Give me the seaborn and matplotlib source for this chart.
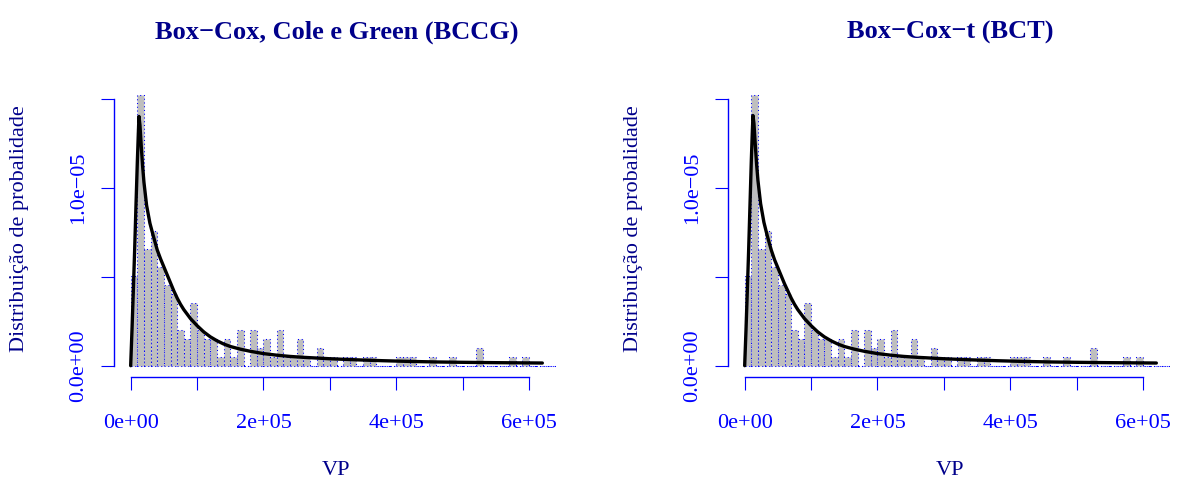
import matplotlib
matplotlib.use("Agg")
import matplotlib.pyplot as plt
import seaborn as sns
import pandas as pd

# Histogram of VP: bins of width 10 000 starting at 0; heights are densities (x 1e-6)
bin_width = 10000
hist_density_e6 = [
    5.06, 15.18, 6.58, 7.59, 5.57, 4.55, 4.05, 2.02, 1.52, 3.54,
    2.02, 1.52, 1.52, 0.51, 1.52, 0.51, 2.02, 0.00, 2.02, 1.01,
    1.52, 0.51, 2.02, 0.51, 0.51, 1.52, 0.51, 0.00, 1.01, 0.51,
    0.51, 0.00, 0.51, 0.51, 0.00, 0.51, 0.51, 0.00, 0.00, 0.00,
    0.51, 0.51, 0.51, 0.00, 0.00, 0.51, 0.00, 0.00, 0.51, 0.00,
    0.00, 0.00, 1.01, 0.00, 0.00, 0.00, 0.00, 0.51, 0.00, 0.51,
    0.00, 0.00, 0.00, 0.00,
]

# Fitted densities (x in thousands, density x 1e-6)
curve_x_k = [0, 2, 4, 6, 8, 10, 11.5, 12.5, 14, 16, 18, 20, 24, 29, 34, 40,
             45, 50, 55, 60, 65, 70, 75, 80, 85, 90, 95, 100, 110, 120, 130,
             140, 150, 165, 180, 200, 220, 240, 260, 280, 300, 340, 380, 420,
             460, 500, 550, 620]
bccg_y_e6 = [0, 2.0, 4.2, 6.5, 9.0, 11.4, 13.0, 14.0, 13.5, 12.3, 11.2, 10.3,
             9.0, 8.0, 7.3, 6.5, 6.0, 5.55, 5.1, 4.65, 4.2, 3.8, 3.45, 3.15,
             2.9, 2.65, 2.45, 2.25, 1.9, 1.62, 1.4, 1.22, 1.08, 0.93, 0.81,
             0.68, 0.59, 0.52, 0.47, 0.43, 0.39, 0.33, 0.28, 0.24, 0.21, 0.19,
             0.17, 0.15]
bct_y_e6 = [0, 2.0, 4.2, 6.5, 9.0, 11.5, 13.1, 14.05, 13.6, 12.4, 11.3, 10.4,
            9.1, 8.05, 7.3, 6.5, 5.95, 5.5, 5.05, 4.6, 4.2, 3.8, 3.45, 3.15,
            2.9, 2.65, 2.45, 2.25, 1.9, 1.62, 1.4, 1.22, 1.08, 0.93, 0.81,
            0.68, 0.59, 0.52, 0.47, 0.43, 0.39, 0.33, 0.28, 0.24, 0.21, 0.19,
            0.17, 0.15]

titles = ["Box\u2212Cox, Cole e Green (BCCG)", "Box\u2212Cox\u2212t (BCT)"]
x_label = "VP"
y_label = "Distribui\u00e7\u00e3o de probalidade"
x_ticks = [0, 100000, 200000, 300000, 400000, 500000, 600000]
x_tick_labels = ["0e+00", "", "2e+05", "", "4e+05", "", "6e+05"]
y_ticks = [0, 5e-6, 1e-5, 1.5e-5]
y_tick_labels = ["0.0e+00", "", "1.0e\u221205", ""]

sns.set_theme(style="white")
plt.rcParams["font.family"] = ["Liberation Serif", "DejaVu Serif"]

W, H = 1178, 480
fig = plt.figure(figsize=(W / 100, H / 100), dpi=100)

navy = "#00008B"
blue = "#0000FF"
bar_grey = "#BEBEBE"

edges = [k * bin_width for k in range(len(hist_density_e6) + 1)]
hist_df = pd.DataFrame({
    "vp": [e + bin_width / 2 for e in edges[:-1]],
    "density": [h * 1e-6 for h in hist_density_e6],
})
curve_x = [v * 1000 for v in curve_x_k]

for i, (title, cy) in enumerate(zip(titles, [bccg_y_e6, bct_y_e6])):
    off = i * 614
    left_px, right_px = 114.2 + off, 558.8 + off
    top_px, bottom_px = 71.9, 377.0
    ax = fig.add_axes([left_px / W, 1 - bottom_px / H,
                       (right_px - left_px) / W, (bottom_px - top_px) / H])
    ax.set_facecolor("none")

    sns.histplot(data=hist_df, x="vp", weights="density", bins=edges,
                 stat="count", color=bar_grey, edgecolor=blue,
                 linewidth=0.75, alpha=1, ax=ax)
    # dotted blue borders on every bar
    for p in ax.patches:
        p.set_facecolor(bar_grey)
        p.set_edgecolor(blue)
        p.set_linewidth(0.75)
        p.set_linestyle((0, (1, 2.6)))
        p.set_snap(True)

    curve_df = pd.DataFrame({"vp": curve_x, "dens": [v * 1e-6 for v in cy]})
    sns.lineplot(data=curve_df, x="vp", y="dens", color="black",
                 linewidth=2.4, ax=ax)

    ax.set_xlim(-24800, 644800)
    ax.set_ylim(-0.635e-6, 16.5e-6)
    ax.set_xlabel("")
    ax.set_ylabel("")

    for s in ["top", "right"]:
        ax.spines[s].set_visible(False)
    for s in ["left", "bottom"]:
        ax.spines[s].set_color(blue)
        ax.spines[s].set_linewidth(1.0)
    ax.spines["left"].set_bounds(0, 1.5e-5)
    ax.spines["bottom"].set_bounds(0, 600000)

    ax.set_xticks(x_ticks)
    ax.set_xticklabels(x_tick_labels)
    ax.set_yticks(y_ticks)
    ax.set_yticklabels(y_tick_labels, rotation=90, va="center")
    ax.tick_params(axis="both", direction="out", length=9.5, width=0.8,
                   colors=blue, labelsize=16, left=True, bottom=True)
    ax.tick_params(axis="x", pad=17)
    ax.tick_params(axis="y", pad=9.5)
    ax.grid(False)

    cxp = (left_px + right_px) / 2
    fig.text(cxp / W, 1 - 39 / H, title, ha="center", va="baseline",
             fontsize=19, fontweight="bold", color=navy)
    fig.text(cxp / W, 1 - 475 / H, x_label, ha="center", va="baseline",
             fontsize=16, color=navy)
    fig.text((19.5 + off) / W, 1 - 229 / H, y_label, ha="center",
             va="center", rotation=90, fontsize=16, color=navy)

fig.savefig("out.png", dpi=100, facecolor="white")
